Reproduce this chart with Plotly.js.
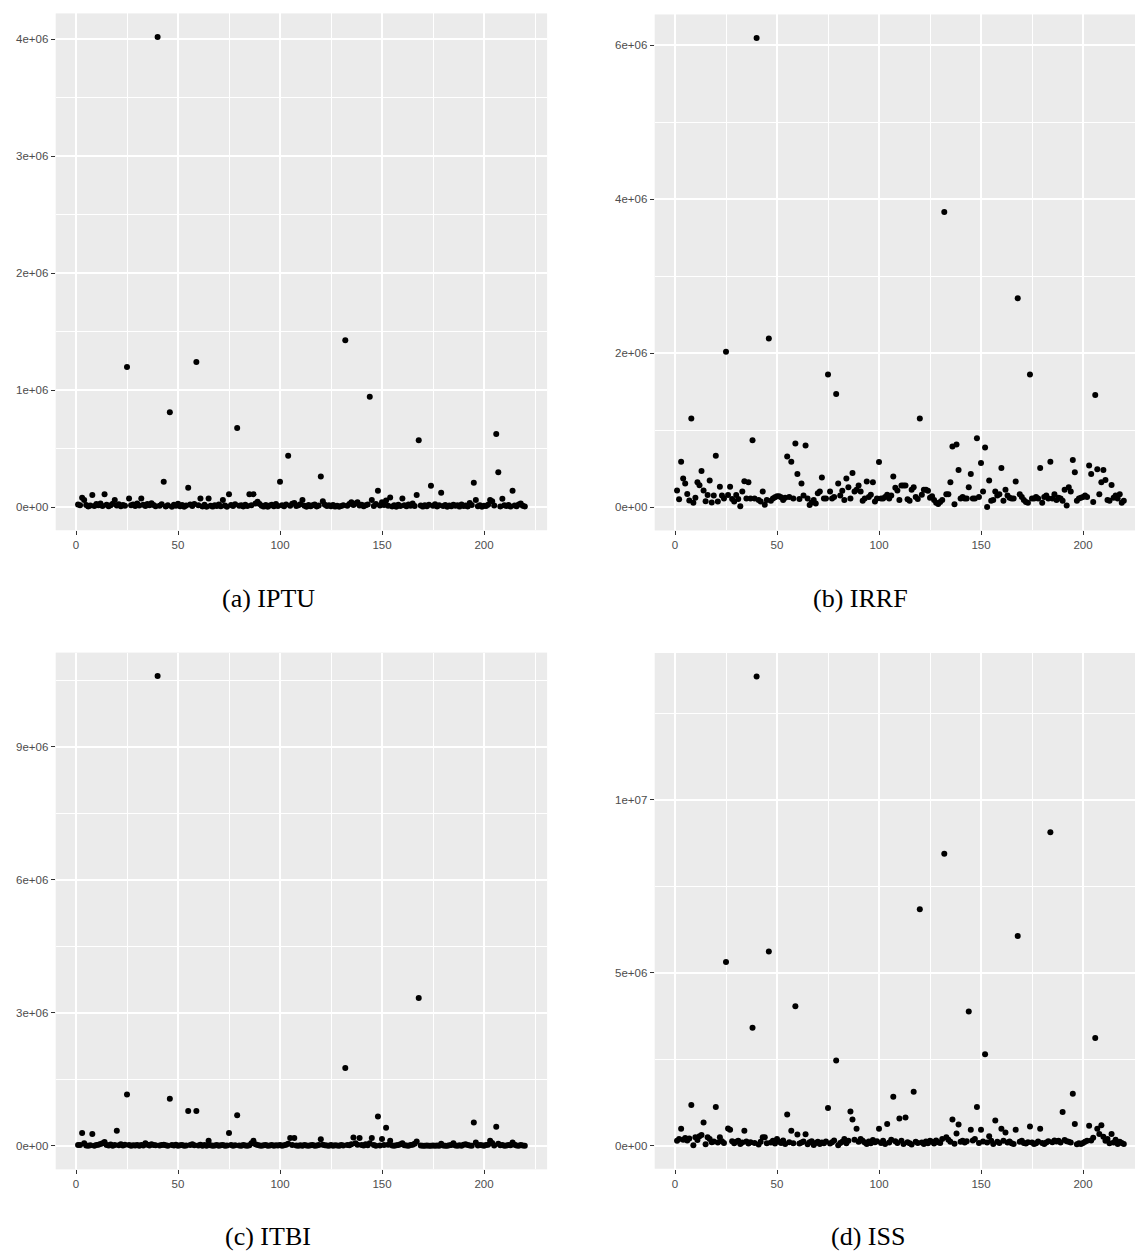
<!DOCTYPE html>
<html>
<head>
<meta charset="utf-8">
<script src="https://cdn.plot.ly/plotly-3.0.1.min.js"></script>
<style>
html,body{margin:0;padding:0;background:#fff;overflow:hidden;}
#chart{width:1135px;height:1253px;}
</style>
</head>
<body>
<div id="chart"></div>
<script>
// ---------- DATA ----------
const panelLabels = ["(a) IPTU", "(b) IRRF", "(c) ITBI", "(d) ISS"];

const iptu = [
22000,15000,79000,60000,18000,5000,12000,102000,8000,25000,
14000,30000,9000,110000,20000,7000,16000,28000,59000,12000,
24000,6000,18000,10000,1196000,73000,15000,22000,8000,30000,
13000,73000,20000,9000,26000,14000,32000,18000,7000,4018000,
10000,24000,216000,5000,16000,809000,2000,20000,11000,28000,
6000,17000,3000,12000,165000,21000,9000,25000,1240000,14000,
73000,5000,19000,2000,73000,10000,4000,15000,8000,22000,
6000,59000,13000,3000,110000,18000,9000,24000,676000,11000,
16000,5000,20000,8000,110000,14000,110000,30000,45000,25000,
10000,4000,18000,2000,12000,20000,7000,25000,9000,216000,
15000,6000,22000,437000,11000,28000,35000,8000,16000,24000,
59000,10000,3000,18000,7000,14000,21000,5000,12000,260000,
50000,20000,9000,15000,6000,18000,4000,11000,2000,8000,
14000,1426000,10000,25000,40000,18000,30000,40000,12000,20000,
6000,15000,22000,942000,59000,8000,25000,139000,12000,40000,
18000,55000,10000,82000,5000,14000,3000,20000,9000,73000,
15000,6000,22000,11000,30000,8000,102000,570000,12000,4000,
16000,7000,20000,182000,10000,24000,5000,14000,122000,9000,
18000,3000,12000,6000,20000,10000,15000,4000,22000,8000,
13000,5000,35000,18000,208000,59000,6000,14000,2000,10000,
8000,20000,59000,50000,12000,623000,298000,5000,70000,15000,
9000,18000,4000,139000,12000,7000,22000,30000,10000,5000];

const irrf = [
215000,100000,587000,370000,305000,170000,85000,1149000,55000,120000,
323000,284000,466000,215000,75000,155000,345000,60000,150000,665000,
70000,262000,150000,110000,2017000,155000,262000,105000,70000,155000,
105000,10000,200000,335000,110000,323000,110000,868000,110000,6092000,
90000,70000,200000,30000,90000,2187000,80000,110000,125000,140000,
140000,125000,90000,120000,655000,130000,587000,110000,825000,427000,
105000,305000,150000,800000,110000,25000,60000,90000,45000,180000,
200000,383000,110000,110000,1721000,200000,110000,130000,1466000,305000,
150000,210000,90000,370000,255000,110000,440000,200000,225000,280000,
200000,80000,110000,330000,130000,160000,320000,70000,110000,586000,
110000,110000,130000,160000,110000,150000,396000,250000,215000,90000,
280000,280000,280000,100000,80000,225000,255000,130000,105000,1149000,
160000,225000,225000,210000,120000,140000,90000,55000,40000,65000,
90000,3830000,165000,165000,320000,786000,35000,813000,480000,110000,
130000,110000,110000,255000,427000,110000,110000,894000,130000,573000,
200000,774000,0,345000,80000,90000,200000,150000,165000,505000,
80000,225000,150000,120000,110000,110000,330000,2710000,165000,130000,
90000,65000,55000,1721000,110000,110000,130000,110000,505000,55000,
130000,150000,110000,587000,110000,165000,90000,120000,110000,80000,
225000,20000,255000,200000,610000,450000,80000,110000,120000,130000,
150000,130000,540000,427000,65000,1453000,490000,165000,320000,480000,
350000,90000,80000,285000,120000,150000,110000,165000,55000,80000];

const itbi = [
20000,25000,296000,60000,10000,5000,15000,270000,8000,20000,
30000,45000,60000,90000,20000,10000,35000,5000,25000,343000,
15000,40000,10000,30000,1160000,20000,5000,15000,10000,25000,
8000,20000,12000,60000,30000,10000,40000,20000,15000,10600000,
10000,25000,30000,15000,5000,1067000,20000,10000,30000,8000,
15000,20000,5000,12000,787000,25000,40000,15000,787000,10000,
30000,5000,20000,8000,120000,15000,3000,10000,20000,5000,
15000,25000,8000,10000,296000,20000,5000,15000,693000,10000,
8000,20000,12000,5000,15000,60000,120000,40000,20000,10000,
5000,15000,20000,8000,10000,25000,5000,15000,10000,20000,
8000,15000,30000,50000,180000,20000,180000,10000,5000,15000,
8000,20000,10000,5000,15000,20000,8000,10000,25000,150000,
30000,15000,10000,5000,20000,8000,15000,10000,5000,20000,
12000,1759000,25000,15000,40000,190000,60000,30000,180000,20000,
10000,40000,15000,60000,180000,20000,5000,665000,10000,156000,
20000,410000,30000,120000,10000,5000,15000,20000,40000,60000,
15000,10000,5000,25000,30000,50000,100000,3340000,10000,5000,
8000,10000,5000,8000,10000,5000,12000,8000,50000,10000,
5000,8000,15000,20000,60000,10000,5000,15000,8000,30000,
40000,20000,10000,5000,530000,80000,10000,25000,15000,5000,
20000,30000,120000,70000,10000,436000,50000,15000,20000,5000,
10000,25000,15000,80000,30000,10000,5000,20000,10000,5000];

const iss = [
150000,200000,497000,180000,230000,160000,220000,1186000,20000,250000,
170000,280000,320000,680000,50000,250000,200000,110000,130000,1125000,
100000,250000,140000,90000,5320000,505000,470000,140000,80000,120000,
150000,60000,100000,440000,130000,70000,110000,3420000,90000,13570000,
40000,120000,250000,250000,80000,5620000,100000,150000,70000,200000,
120000,90000,160000,60000,912000,110000,440000,80000,4040000,333000,
70000,100000,130000,340000,50000,110000,140000,30000,90000,120000,
60000,100000,80000,130000,1095000,70000,110000,160000,2470000,20000,
90000,120000,200000,80000,150000,1000000,767000,180000,497000,120000,
200000,150000,100000,60000,130000,80000,170000,110000,140000,497000,
90000,150000,60000,633000,100000,180000,1423000,140000,90000,796000,
150000,60000,825000,110000,80000,40000,1568000,120000,90000,6840000,
100000,60000,130000,80000,150000,120000,70000,160000,110000,90000,
200000,8450000,250000,180000,120000,767000,64000,360000,620000,120000,
150000,100000,140000,3890000,470000,160000,200000,1125000,90000,470000,
130000,2650000,100000,280000,150000,60000,740000,120000,90000,497000,
150000,390000,100000,130000,80000,60000,470000,6070000,120000,150000,
90000,70000,110000,565000,100000,60000,80000,130000,497000,90000,
60000,100000,140000,9070000,110000,160000,130000,150000,100000,980000,
170000,140000,120000,100000,1510000,633000,50000,80000,60000,90000,
120000,150000,585000,160000,240000,3120000,497000,350000,600000,270000,
150000,200000,80000,350000,100000,180000,60000,120000,90000,60000];

const xTickVals = [0, 50, 100, 150, 200];
const xMinorVals = [25, 75, 125, 175, 225];

const yTicksA = [0, 1e6, 2e6, 3e6, 4e6];
const yLabelsA = ["0e+00", "1e+06", "2e+06", "3e+06", "4e+06"];
const yMinorA = [5e5, 1.5e6, 2.5e6, 3.5e6];

const yTicksB = [0, 2e6, 4e6, 6e6];
const yLabelsB = ["0e+00", "2e+06", "4e+06", "6e+06"];
const yMinorB = [1e6, 3e6, 5e6];

const yTicksC = [0, 3e6, 6e6, 9e6];
const yLabelsC = ["0e+00", "3e+06", "6e+06", "9e+06"];
const yMinorC = [1.5e6, 4.5e6, 7.5e6, 10.5e6];

const yTicksD = [0, 5e6, 1e7];
const yLabelsD = ["0e+00", "5e+06", "1e+07"];
const yMinorD = [2.5e6, 7.5e6, 1.25e7];

// ---------- BUILD ----------
const W = 1135, H = 1253;
const obs = iptu.map((_, k) => k + 1);

function padRange(arr) {
  const mn = Math.min(...arr), mx = Math.max(...arr);
  const s = (mx - mn) * 0.05;
  return [mn - s, mx + s];
}
const xFull = padRange(obs);

// panel placement: pixel of value 0 and pixels per unit, per axis
const place = [
  {x0: 76,  xs: 2.04, y0: 507,  ys: 117 / 1e6},
  {x0: 675, xs: 2.04, y0: 507,  ys: 77 / 1e6},
  {x0: 76,  xs: 2.04, y0: 1146, ys: 133 / 3e6},
  {x0: 675, xs: 2.04, y0: 1146, ys: 173 / 5e6}
];

const series = [iptu, irrf, itbi, iss];
const yT = [yTicksA, yTicksB, yTicksC, yTicksD];
const yL = [yLabelsA, yLabelsB, yLabelsC, yLabelsD];
const yM = [yMinorA, yMinorB, yMinorC, yMinorD];

const tickFont = {family: "Liberation Sans, Arial, sans-serif", size: 11.5, color: "#4D4D4D"};
const layout = {
  width: W, height: H,
  margin: {l: 0, r: 0, t: 0, b: 0},
  paper_bgcolor: "#FFFFFF",
  plot_bgcolor: "#EBEBEB",
  showlegend: false,
  annotations: []
};
const traces = [];

series.forEach((vals, p) => {
  const pl = place[p];
  const yr = padRange(vals);
  let xr = xFull.slice();
  let left = pl.x0 + xr[0] * pl.xs;
  let right = pl.x0 + xr[1] * pl.xs;
  if (right > W) { // panel cropped at the page edge
    right = W;
    xr = [xr[0], (W - pl.x0) / pl.xs];
  }
  const top = pl.y0 - yr[1] * pl.ys;
  const bottom = pl.y0 - yr[0] * pl.ys;
  const sfx = p === 0 ? "" : String(p + 1);
  const common = {
    showgrid: true, gridcolor: "#FFFFFF", gridwidth: 2,
    zeroline: false, showline: false,
    ticks: "outside", ticklen: 4, tickwidth: 1, tickcolor: "#333333",
    tickfont: tickFont, fixedrange: true
  };
  layout["xaxis" + sfx] = Object.assign({}, common, {
    domain: [left / W, right / W],
    range: xr,
    tickmode: "array", tickvals: xTickVals, ticktext: xTickVals.map(String),
    minor: {tickmode: "array", tickvals: xMinorVals, showgrid: true, gridcolor: "#FFFFFF", gridwidth: 1, ticks: ""},
    anchor: "y" + sfx
  });
  layout["yaxis" + sfx] = Object.assign({}, common, {
    domain: [1 - bottom / H, 1 - top / H],
    range: yr,
    tickmode: "array", tickvals: yT[p], ticktext: yL[p],
    minor: {tickmode: "array", tickvals: yM[p], showgrid: true, gridcolor: "#FFFFFF", gridwidth: 1, ticks: ""},
    anchor: "x" + sfx
  });
  traces.push({
    type: "scatter", mode: "markers",
    x: obs, y: vals,
    xaxis: "x" + sfx, yaxis: "y" + sfx,
    marker: {color: "#000000", size: 6, line: {width: 0}},
    hoverinfo: "x+y"
  });
});

const capPos = [[268, 598], [860, 598], [268, 1236], [868, 1236]];
panelLabels.forEach((txt, p) => {
  layout.annotations.push({
    text: txt, xref: "paper", yref: "paper",
    x: capPos[p][0] / W, y: 1 - capPos[p][1] / H,
    xanchor: "center", yanchor: "middle", showarrow: false,
    font: {family: "Liberation Serif, DejaVu Serif, serif", size: 26, color: "#000000"}
  });
});

Plotly.newPlot("chart", traces, layout, {displayModeBar: false, staticPlot: true});
</script>
</body>
</html>
